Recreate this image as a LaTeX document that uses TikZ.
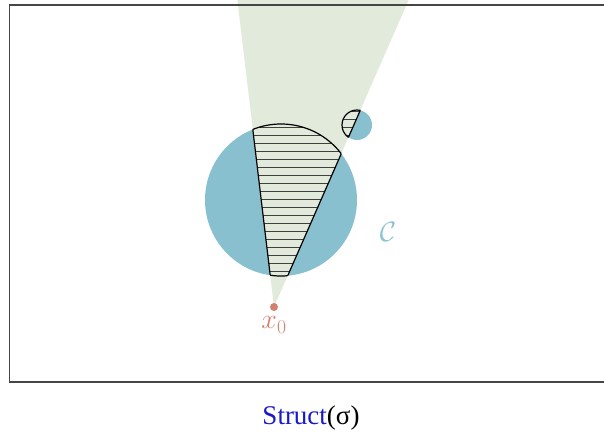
\RequirePackage{fix-cm}
\documentclass[tikz,border=0pt]{standalone}
\usepackage{fontspec}
\newfontfamily\capfont{Liberation Serif}
\definecolor{conegreen}{RGB}{226,235,219}
\definecolor{circblue}{RGB}{137,192,207}
\definecolor{dotred}{RGB}{212,128,110}
\definecolor{lblblue}{RGB}{138,196,212}
\definecolor{capblue}{RGB}{25,25,200}
\definecolor{framegray}{RGB}{70,70,70}
\tikzset{
  hatchline/.style={draw=black!75, line width=1.3pt},
  outline/.style={draw=black, line width=1.2pt},
  dotnode/.style={circle, fill=dotred, minimum size=8pt, inner sep=0pt},
  bigfont/.style={font=\fontsize{28}{32}\selectfont, inner sep=0pt},
}
\begin{document}
\begin{tikzpicture}[x=1pt,y=-1pt]
\useasboundingbox (0,0) rectangle (604,439);
\coordinate (apex) at (274,307);
\coordinate (cl) at (237,-3);
\coordinate (cr) at (410,-3);
\coordinate (bigc) at (281,200);
\coordinate (smallc) at (357,125);
% cone
\fill[conegreen] (apex) -- (cl) -- (cr) -- cycle;
% circles
\fill[circblue] (bigc) circle[radius=76pt];
\fill[circblue] (smallc) circle[radius=15pt];
% hatched intersection
\begin{scope}
  \clip (apex) -- (cl) -- (cr) -- cycle;
  \clip (bigc) circle[radius=76pt] (smallc) circle[radius=15pt];
  \fill[conegreen] (150,90) rectangle (450,300);
  \foreach \y in {111.7,119.7,...,280} \draw[hatchline] (150,\y) -- (450,\y);
\end{scope}
\begin{scope}
  \clip (apex) -- (cl) -- (cr) -- cycle;
  \draw[outline] (bigc) circle[radius=76pt];
  \draw[outline] (smallc) circle[radius=15pt];
\end{scope}
\begin{scope}
  \clip (bigc) circle[radius=76pt] (smallc) circle[radius=15pt];
  \draw[outline] (cl) -- (apex) -- (cr);
\end{scope}
% frame
\draw[framegray, line width=1.3pt] (612,5) -- (9.5,5) -- (9.5,382) -- (612,382);
% labels
\node[dotnode] (x0pt) at (apex) {};
\node[bigfont, text=dotred] (x0) at (274,325) {$x_0$};
\node[bigfont, text=lblblue] (C) at (388,232) {$\mathcal{C}$};
\node[font=\capfont\fontsize{27}{32}\selectfont, inner sep=0pt] (cap) at (311,418) {\textcolor{capblue}{Struct}(σ)};
\end{tikzpicture}
\end{document}
